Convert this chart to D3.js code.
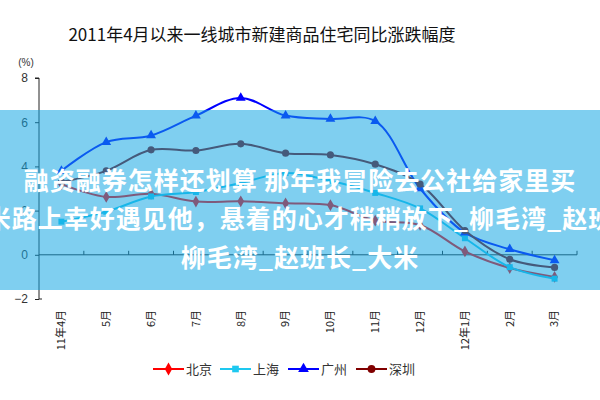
<!DOCTYPE html>
<html>
<head>
<meta charset="utf-8">
<script src="https://cdn.jsdelivr.net/npm/d3@7"></script>
<style>
  html, body { margin: 0; padding: 0; background: #fff; }
  svg { display: block; }
</style>
</head>
<body>
<svg id="chart" width="600" height="400"></svg>
<script>
const title = "2011年4月以来一线城市新建商品住宅同比涨跌幅度";
const categories = ["11年4月","5月","6月","7月","8月","9月","10月","11月","12月","12年1月","2月","3月"];
const seriesNames = ["北京","上海","广州","深圳"];
const beijing   = [3.2, 2.62, 2.76, 2.41, 2.42, 2.33, 2.25, 1.55, 1.35, 0.15, -0.6, -1.0];
const shanghai  = [1.5, 1.95, 2.64, 2.84, 3.25, 3.7, 3.35, 2.8, 2.1, 0.75, -0.56, -1.08];
const guangzhou = [3.8, 5.1, 5.4, 6.3, 7.1, 6.3, 6.15, 6.05, 3.0, 1.0, 0.25, -0.25];
const shenzhen  = [3.3, 3.8, 4.75, 4.72, 5.02, 4.6, 4.52, 4.1, 3.2, 1.1, -0.2, -0.57];
const yTicks = [-2, 0, 2, 4, 6, 8];
const unitLabel = "(%)";
const overlayLines = [
  "融资融券怎样还划算 那年我冒险去公社给家里买",
  "米路上幸好遇见他，悬着的心才稍稍放下_柳毛湾_赵班",
  "柳毛湾_赵班长_大米"
];

(function () {
const colors = ["#ff0000", "#1ec8f0", "#0000ff", "#800000"];
const shapes = [d3.symbolDiamond, d3.symbolSquare, d3.symbolTriangle, d3.symbolCircle];
const symSizes = [40, 36, 42, 40];
const allSeries = [beijing, shanghai, guangzhou, shenzhen];

const svg = d3.select("#chart");
const pL = 39, pR = 577, pT = 78, pB = 299;

const x = d3.scaleBand().domain(categories).range([pL, pR]).padding(0);
const cx = c => x(c) + x.bandwidth() / 2;
const y = d3.scaleLinear().domain([-2, 8]).range([pB, pT]);

// title
svg.append("text")
  .attr("x", 262).attr("y", 41)
  .attr("text-anchor", "middle")
  .attr("font-family", "'Noto Sans CJK SC', sans-serif")
  .attr("font-size", 17)
  .attr("fill", "#111")
  .text(title);

// unit
svg.append("text")
  .attr("x", 26).attr("y", 66)
  .attr("text-anchor", "middle")
  .attr("font-family", "'Liberation Sans', Arial, sans-serif")
  .attr("font-size", 10)
  .attr("fill", "#333")
  .text(unitLabel);

// y axis
const yAxis = svg.append("g")
  .attr("transform", `translate(${pL},0)`)
  .call(d3.axisLeft(y).tickValues(yTicks).tickSize(4).tickPadding(7).tickFormat(d3.format("d")));
yAxis.select(".domain").attr("stroke", "#222").attr("d", `M-4,${pT}H0V${pB}H3`);
yAxis.selectAll(".tick line").attr("stroke", "#222");
yAxis.selectAll(".tick text")
  .attr("font-family", "'Liberation Sans', Arial, sans-serif")
  .attr("font-size", 12)
  .attr("fill", "#333");

// zero axis with category boundary ticks
const xAxis = svg.append("g").attr("transform", `translate(0,${y(0)})`);
xAxis.append("line").attr("x1", pL).attr("x2", pR).attr("y1", 0).attr("y2", 0)
  .attr("stroke", "#222").attr("stroke-width", 1);
categories.forEach((c) => {
  const bx = x(c) + x.bandwidth();
  xAxis.append("line").attr("x1", bx).attr("x2", bx).attr("y1", 0).attr("y2", -4)
    .attr("stroke", "#222");
});

// x labels, rotated
svg.append("g").selectAll("text")
  .data(categories).join("text")
  .attr("transform", d => `translate(${cx(d)},310) rotate(-90)`)
  .attr("text-anchor", "end")
  .attr("dy", "0.35em")
  .attr("font-family", "'Noto Sans CJK SC', sans-serif")
  .attr("font-size", 11)
  .attr("fill", "#222")
  .text(d => d);

// series
const line = d3.line()
  .x((d, i) => cx(categories[i]))
  .y(d => y(d))
  .curve(d3.curveCatmullRom.alpha(0.5));

allSeries.forEach((vals, si) => {
  const g = svg.append("g");
  g.append("path")
    .attr("d", line(vals))
    .attr("fill", "none")
    .attr("stroke", colors[si])
    .attr("stroke-width", 2);
  g.selectAll("path.m").data(vals).join("path")
    .attr("class", "m")
    .attr("transform", (d, i) => `translate(${cx(categories[i])},${y(d)})`)
    .attr("d", d3.symbol().type(shapes[si]).size(symSizes[si]))
    .attr("fill", colors[si]);
});

// legend
const legendX = [153, 220, 288, 356];
const lg = svg.append("g");
seriesNames.forEach((name, i) => {
  const g = lg.append("g").attr("transform", `translate(${legendX[i]},369)`);
  g.append("line").attr("x1", 0).attr("x2", 31).attr("y1", 0).attr("y2", 0)
    .attr("stroke", colors[i]).attr("stroke-width", 2);
  g.append("path").attr("transform", "translate(15.5,0)")
    .attr("d", d3.symbol().type(shapes[i]).size(symSizes[i] + 8))
    .attr("fill", colors[i]);
  g.append("text").attr("x", 33).attr("y", 0).attr("dy", "0.36em")
    .attr("font-family", "'Noto Sans CJK SC', sans-serif")
    .attr("font-size", 13)
    .attr("fill", "#333")
    .text(name);
});

// translucent overlay band
svg.append("rect")
  .attr("x", 0).attr("y", 110).attr("width", 600).attr("height", 180)
  .attr("fill", "rgb(19,167,228)").attr("fill-opacity", 0.54);

// overlay text
const baselines = [190, 228, 267];
overlayLines.forEach((t, i) => {
  svg.append("text")
    .attr("x", 300).attr("y", baselines[i])
    .attr("text-anchor", "middle")
    .attr("font-family", "'Noto Sans CJK SC', sans-serif")
    .attr("font-weight", "bold")
    .attr("font-size", 25)
    .attr("letter-spacing", "1px")
    .attr("fill", "#fff")
    .text(t);
});
})();
</script>
</body>
</html>
